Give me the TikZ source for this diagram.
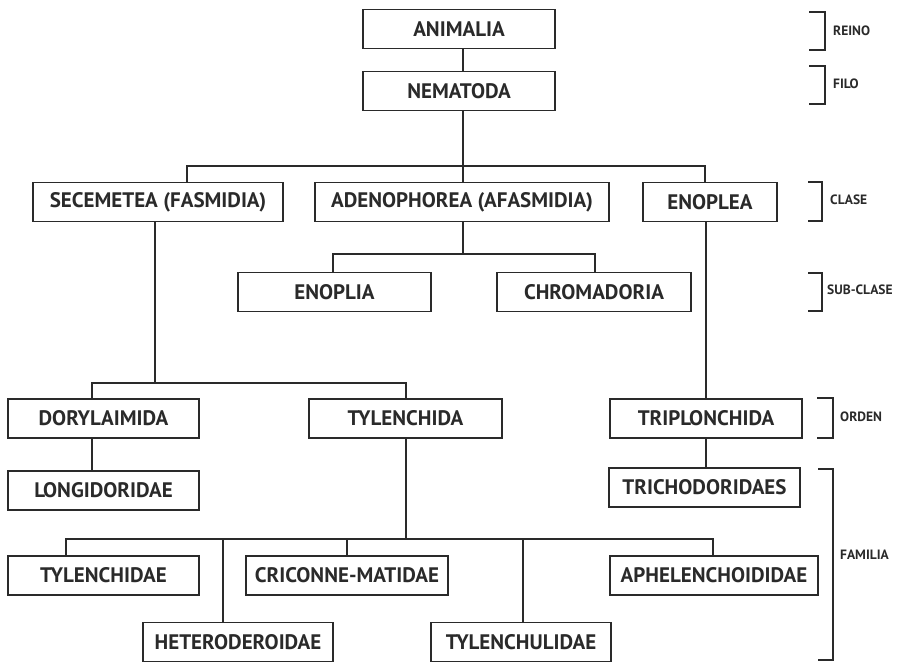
\documentclass[tikz,border=0pt]{standalone}
\usepackage{fontspec}
\setmainfont{PT Sans}
\definecolor{ink}{HTML}{2A2A2A}
\begin{document}
\begin{tikzpicture}[x=1pt,y=-1pt,
  box/.style={draw=ink,line width=1.2pt,minimum height=39pt,inner sep=2pt,
    font=\fontsize{21}{23}\selectfont\bfseries,text=ink},
  rank/.style={anchor=west,inner sep=0pt,font=\fontsize{13.5}{15}\selectfont\bfseries,text=ink},
  link/.style={draw=ink,line width=1.2pt}]
  \useasboundingbox (0,0) rectangle (905,663);
  \node[box,minimum width=192pt] (animalia) at (459,29) {ANIMALIA};
  \node[box,minimum width=192pt] (nematoda) at (459,91) {NEMATODA};
  \node[box,minimum width=250pt] (secem) at (158,202) {SECEMETEA (FASMIDIA)};
  \node[box,minimum width=294pt] (adeno) at (462,202) {ADENOPHOREA (AFASMIDIA)};
  \node[box,minimum width=134pt] (enoplea) at (710,202) {ENOPLEA};
  \node[box,minimum width=193pt] (enoplia) at (334.5,292) {ENOPLIA};
  \node[box,minimum width=194pt] (chroma) at (594,292) {CHROMADORIA};
  \node[box,minimum width=191pt] (dory) at (103.5,418.5) {DORYLAIMIDA};
  \node[box,minimum width=193pt] (tylench) at (405.5,418.5) {TYLENCHIDA};
  \node[box,minimum width=192pt] (triplon) at (706,418.5) {TRIPLONCHIDA};
  \node[box,minimum width=191pt] (longi) at (103.5,490.5) {LONGIDORIDAE};
  \node[box,minimum width=191pt] (tricho) at (704.5,487.5) {TRICHODORIDAES};
  \node[box,minimum width=191pt] (tylenchidae) at (103.5,575.5) {TYLENCHIDAE};
  \node[box,minimum width=202pt] (criconne) at (347,575.5) {CRICONNE-MATIDAE};
  \node[box,minimum width=208pt] (aphel) at (714,575.5) {APHELENCHOIDIDAE};
  \node[box,minimum width=190pt] (hetero) at (238,642) {HETERODEROIDAE};
  \node[box,minimum width=180pt] (tylenchul) at (521,642) {TYLENCHULIDAE};
  % bus points
  \coordinate (c1) at (187,166);
  \coordinate (j1) at (463,166);
  \coordinate (c3) at (705,166);
  \coordinate (e1) at (333,254);
  \coordinate (j2) at (463,254);
  \coordinate (e2) at (595,254);
  \coordinate (d1) at (92,383);
  \coordinate (j3) at (155,383);
  \coordinate (d2) at (406,383);
  \coordinate (f1) at (66,539);
  \coordinate (f2) at (223,539);
  \coordinate (f3) at (347,539);
  \coordinate (j4) at (406,539);
  \coordinate (f4) at (523,539);
  \coordinate (f5) at (713,539);
  \draw[link] (animalia.south -| j1) -- (nematoda.north -| j1);
  \draw[link] (nematoda.south -| j1) -- (adeno.north -| j1);
  \draw[link] (secem.north -| c1) |- (c3) -- (enoplea.north -| c3);
  \draw[link] (adeno.south -| j2) -- (j2);
  \draw[link] (enoplia.north -| e1) |- (e2) -- (chroma.north -| e2);
  \draw[link] (secem.south -| j3) -- (j3);
  \draw[link] (dory.north -| d1) |- (d2) -- (tylench.north -| d2);
  \draw[link] (dory.south -| d1) -- (longi.north -| d1);
  \draw[link] (enoplea.south -| triplon.north) -- (triplon.north);
  \draw[link] (triplon.south) -- (tricho.north -| triplon.south);
  \draw[link] (tylench.south -| j4) -- (j4);
  \draw[link] (tylenchidae.north -| f1) |- (f5) -- (aphel.north -| f5);
  \draw[link] (f2) -- (hetero.north -| f2);
  \draw[link] (f3) -- (criconne.north -| f3);
  \draw[link] (f4) -- (tylenchul.north -| f4);
  % ranks
  \draw[link] (809,12) -| (825,50) -- (809,50);
  \node[rank] (reino) at (833,31) {REINO};
  \draw[link] (809,66) -| (825,104) -- (809,104);
  \node[rank] (filo) at (833,84) {FILO};
  \draw[link] (808,182) -| (822,221) -- (808,221);
  \node[rank] (clase) at (830,200) {CLASE};
  \draw[link] (808,273) -| (822,311) -- (808,311);
  \node[rank] (subclase) at (827,290) {SUB-CLASE};
  \draw[link] (817,398) -| (833,438) -- (817,438);
  \node[rank] (orden) at (840,417) {ORDEN};
  \draw[link] (818,469) -| (833,660) -- (818,660);
  \node[rank] (familia) at (840,555) {FAMILIA};
\end{tikzpicture}
\end{document}
